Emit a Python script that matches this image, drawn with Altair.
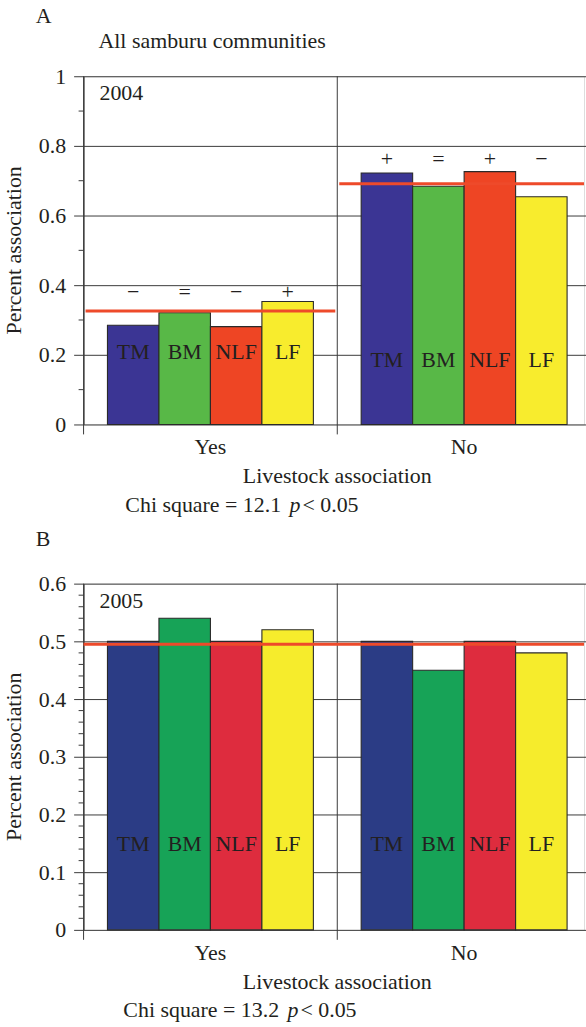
import altair as alt
import pandas as pd

FONT = "Liberation Serif, Times New Roman, Times, serif"
TXT = "#231f20"
LINE = "#3a3a3a"
RED = "#ee4a2a"

groups = ["Yes", "No"]
categories = ["TM", "BM", "NLF", "LF"]

# Panel A (2004)
a_yes = [0.285, 0.321, 0.281, 0.353]
a_no = [0.722, 0.684, 0.726, 0.654]
a_ref = [0.326, 0.691]
a_sign_yes = ["\u2212", "=", "\u2212", "+"]
a_sign_no = ["+", "=", "+", "\u2212"]
a_colors = ["#3b3594", "#58b847", "#ee4524", "#f8ec2d"]
a_ticks = [0, 0.2, 0.4, 0.6, 0.8, 1]
a_minor = [0.1, 0.3, 0.5, 0.7, 0.9]

# Panel B (2005)
b_yes = [0.50, 0.54, 0.50, 0.52]
b_no = [0.50, 0.45, 0.50, 0.48]
b_ref = [0.495]
b_colors = ["#2b3c85", "#17a357", "#de2c3e", "#f6ec2c"]
b_ticks = [0, 0.1, 0.2, 0.3, 0.4, 0.5, 0.6]
b_minor = [0.02, 0.04, 0.06, 0.08, 0.12, 0.14, 0.16, 0.18, 0.22, 0.24, 0.26, 0.28,
           0.32, 0.34, 0.36, 0.38, 0.42, 0.44, 0.46, 0.48, 0.52, 0.54, 0.56, 0.58]

W = 503
BAND_RANGE = [0, 510]
FS = 22


def text_layer(txt, x, y, align="left", style="normal", angle=0, baseline="alphabetic"):
    return alt.Chart(pd.DataFrame({"t": [txt]})).mark_text(
        align=align, baseline=baseline, font=FONT, fontSize=FS, fontStyle=style,
        color=TXT, angle=angle
    ).encode(x=alt.value(x), y=alt.value(y), text="t:N")


def panel(yes, no, colors, ymax, ticks, minor, h, letter, letter_y, header, year,
          label_y, signs=None, sign_y=None, ref_group=None, ref_full=None,
          chi_num="", chi_x=42):
    xs = alt.Scale(domain=groups, range=BAND_RANGE, paddingInner=0, paddingOuter=0)
    ys = alt.Scale(domain=[0, ymax], nice=False, zero=False)
    yaxis = alt.Axis(
        values=ticks, format="~g", title=None, grid=True, gridColor=LINE, gridWidth=1,
        tickSize=10, tickColor=LINE, tickWidth=1, domainColor=LINE, domainWidth=1,
        labelFont=FONT, labelFontSize=FS, labelColor=TXT, labelPadding=8)
    xo = alt.XOffset("cat:N", scale=alt.Scale(domain=categories, paddingInner=0, paddingOuter=0.464))
    xg = alt.X("grp:N", scale=xs, axis=None)

    def yq(field):
        return alt.Y(field, type="quantitative", scale=ys, axis=yaxis)

    grp_col = [g for g in groups for _ in categories]
    bars_df = pd.DataFrame({"grp": grp_col, "cat": categories * 2, "val": yes + no})

    bars = alt.Chart(bars_df).mark_bar(stroke="#2a2a2a", strokeWidth=1.1, opacity=1).encode(
        x=xg, xOffset=xo, y=yq("val"),
        color=alt.Color("cat:N", scale=alt.Scale(domain=categories, range=colors), legend=None),
    )

    div = alt.Chart(pd.DataFrame({"grp": groups})).mark_rule(color=LINE, strokeWidth=1).encode(
        x=alt.X("grp:N", scale=xs, axis=None, bandPosition=0),
        y=alt.value(0), y2=alt.value(h + 10))

    mt = alt.Chart(pd.DataFrame({"v": minor})).mark_rule(color=LINE, strokeWidth=1).encode(
        y=yq("v"), x=alt.value(-5), x2=alt.value(0))

    lab_df = pd.DataFrame({"grp": grp_col, "cat": categories * 2,
                           "ly": [label_y[g] for g in grp_col]})
    labs = alt.Chart(lab_df).mark_text(font=FONT, fontSize=FS, color=TXT, baseline="alphabetic").encode(
        x=xg, xOffset=xo, y=yq("ly"), text="cat:N")

    glab = alt.Chart(pd.DataFrame({"grp": groups})).mark_text(
        font=FONT, fontSize=FS, color=TXT, baseline="alphabetic").encode(
        x=xg, y=alt.value(h + 30), text="grp:N")

    layers = [bars, div, mt]

    if ref_group is not None:
        ref = alt.Chart(pd.DataFrame({"grp": groups, "r": ref_group})).mark_tick(
            color=RED, thickness=3, size=251, clip=True, opacity=1).encode(
            x=xg, y=yq("r"))
        layers.append(ref)
    if ref_full is not None:
        ref2 = alt.Chart(pd.DataFrame({"r": ref_full})).mark_rule(
            color=RED, strokeWidth=3, opacity=1).encode(
            y=yq("r"), x=alt.value(0), x2=alt.value(W))
        layers.append(ref2)

    layers += [labs, glab]

    if signs is not None:
        sdf = pd.DataFrame({"grp": grp_col, "cat": categories * 2, "s": signs,
                            "sy": [sign_y[g] for g in grp_col]})
        sl = alt.Chart(sdf).mark_text(font=FONT, fontSize=FS, color=TXT, baseline="middle").encode(
            x=xg, xOffset=xo, y=yq("sy"), text="s:N")
        layers.append(sl)

    layers += [
        text_layer(letter, -48, letter_y),
        text_layer(year, 16, 24),
        text_layer("Percent association", -63, h / 2, align="center", angle=270),
        text_layer("Livestock association", 255, h + 59, align="center"),
        text_layer("Chi square = " + chi_num, chi_x, h + 87.5),
        text_layer("p", chi_x + 165, h + 87.5, style="italic"),
        text_layer("< 0.05", chi_x + 178, h + 87.5),
    ]
    if header:
        layers.append(text_layer(header, 15, -28))

    return alt.layer(*layers).properties(width=W, height=h)


A = panel(a_yes, a_no, a_colors, 1, a_ticks, a_minor, 350, "A", -54,
          "All samburu communities", "2004", {"Yes": 0.188, "No": 0.164},
          signs=a_sign_yes + a_sign_no, sign_y={"Yes": 0.38, "No": 0.761},
          ref_group=a_ref, chi_num="12.1", chi_x=42)

B = panel(b_yes, b_no, b_colors, 0.6, b_ticks, b_minor, 348, "B", -38,
          None, "2005", {"Yes": 0.136, "No": 0.136},
          ref_full=b_ref, chi_num="13.2", chi_x=40)

chart = alt.vconcat(A, B, spacing=160, bounds="flush").resolve_scale(
    color="independent"
).properties(
    padding={"left": 2, "top": 1, "right": 0, "bottom": 3}
).configure_view(strokeWidth=0).configure(background="white")

chart.save("out.html", embed_options={"renderer": "svg", "actions": False})
